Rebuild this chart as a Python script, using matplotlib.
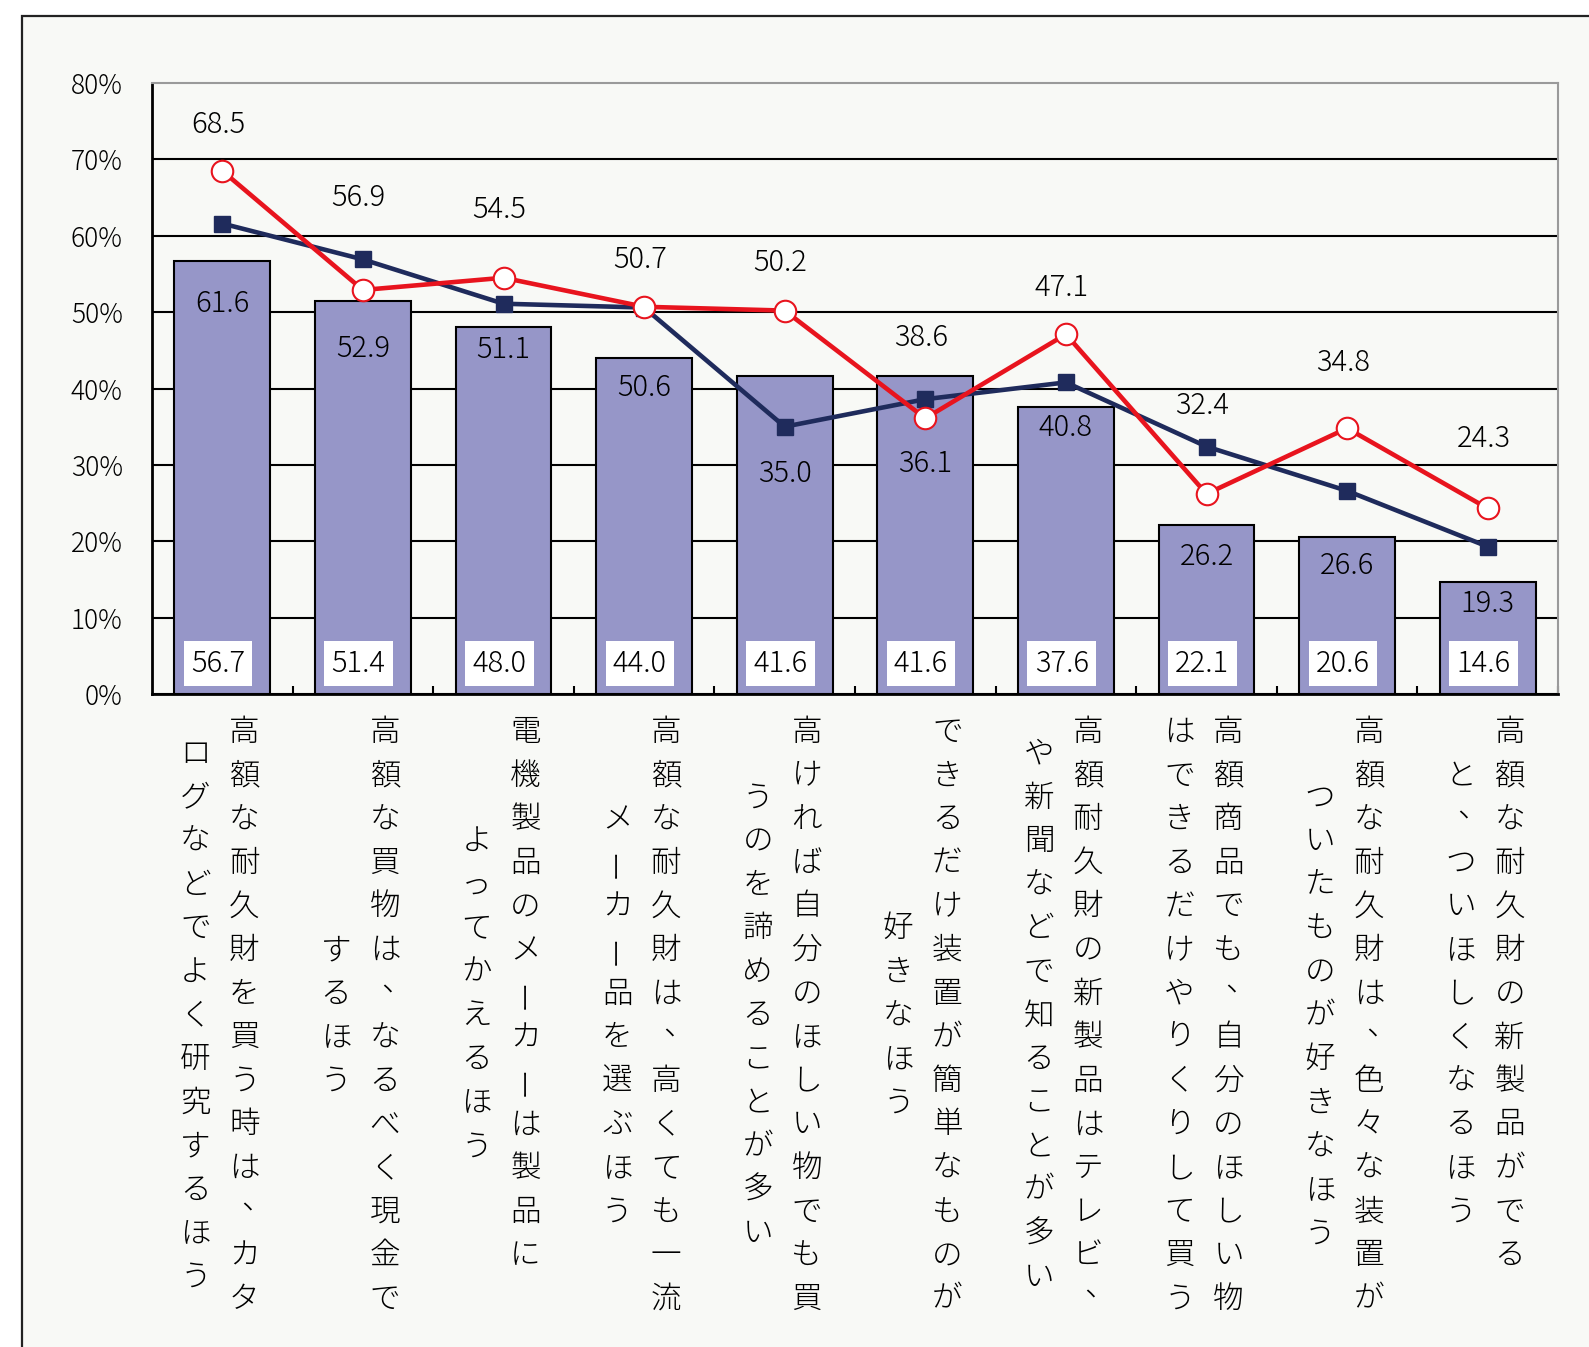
import matplotlib.pyplot as plt
from matplotlib.patches import Rectangle

plt.rcParams['font.family'] = ['Noto Sans CJK JP', 'DejaVu Sans']

# 項目（縦書き、\n で列を分ける：右の列 → 左の列）
labels = [
    "高額な耐久財を買う時は、カタ\nログなどでよく研究するほう",
    "高額な買物は、なるべく現金で\nするほう",
    "電機製品のメーカーは製品に\nよってかえるほう",
    "高額な耐久財は、高くても一流\nメーカー品を選ぶほう",
    "高ければ自分のほしい物でも買\nうのを諦めることが多い",
    "できるだけ装置が簡単なものが\n好きなほう",
    "高額耐久財の新製品はテレビ、\nや新聞などで知ることが多い",
    "高額商品でも、自分のほしい物\nはできるだけやりくりして買う",
    "高額な耐久財は、色々な装置が\nついたものが好きなほう",
    "高額な耐久財の新製品がでる\nと、ついほしくなるほう",
]

bar_vals = [56.7, 51.4, 48.0, 44.0, 41.6, 41.6, 37.6, 22.1, 20.6, 14.6]
navy_vals = [61.6, 56.9, 51.1, 50.6, 35.0, 38.6, 40.8, 32.4, 26.6, 19.3]
red_vals = [68.5, 52.9, 54.5, 50.7, 50.2, 36.1, 47.1, 26.2, 34.8, 24.3]

yticks = [0, 10, 20, 30, 40, 50, 60, 70, 80]

# ラベル位置の調整（%単位）
upper_dy = [6.0, 8.1, 8.9, 6.1, 6.2, 8.1, 6.1, 5.3, 8.6, 9.1]
lower_dy = [-10.5, -7.7, -6.0, -10.5, -6.1, -5.9, -5.9, -8.2, -9.8, -7.5]

bar_color = '#9696c8'
navy = '#1f2b5c'
red = '#e8141e'
bg = '#f8f9f6'

W, H = 1589, 1347
fig = plt.figure(figsize=(W / 100, H / 100), dpi=100)
fig.patch.set_facecolor('white')

# 外枠
fig.patches.append(Rectangle((22 / W, -0.1), 1.2, 1.1 - 16 / H, transform=fig.transFigure,
                             facecolor=bg, edgecolor='#222222', linewidth=1.6, zorder=-1))

ax = fig.add_axes([152 / W, 1 - 694 / H, (1558 - 152) / W, (694 - 83) / H])
ax.set_facecolor(bg)

x = list(range(len(bar_vals)))

ax.bar(x, bar_vals, width=0.68, color=bar_color, edgecolor='black', linewidth=1.5, zorder=2)
ax.plot(x, navy_vals, color=navy, linewidth=3.3, marker='s', markersize=12, zorder=3)
ax.plot(x, red_vals, color=red, linewidth=3.3, marker='o', markersize=15.5,
        markerfacecolor='white', markeredgecolor=red, markeredgewidth=1.5, zorder=4)

ax.set_xlim(-0.5, len(x) - 0.5)
ax.set_ylim(0, 80)
ax.set_yticks(yticks)
ax.set_yticklabels([f"{v}%" for v in yticks], fontweight='light')
ax.tick_params(axis='y', length=0, pad=21, labelsize=19)
ax.set_xticks([])
ax.set_xticks([i + 0.5 for i in x], minor=True)
ax.tick_params(axis='x', which='minor', direction='in', length=6, width=1.5)

ax.set_axisbelow(True)
ax.yaxis.grid(True, color='black', linewidth=1.5)
ax.yaxis.get_gridlines()[-1].set_visible(False)
for s in ['top', 'right']:
    ax.spines[s].set_color('#9a9a9a')
    ax.spines[s].set_linewidth(1.5)
for s in ['left', 'bottom']:
    ax.spines[s].set_color('black')
    ax.spines[s].set_linewidth(2)

# 数値ラベル
for i in x:
    hi = max(red_vals[i], navy_vals[i])
    lo = min(red_vals[i], navy_vals[i])
    ax.text(i - 0.03, hi + upper_dy[i], f"{hi:.1f}", ha='center', va='center',
            fontsize=21, fontweight='light', zorder=5)
    ax.text(i, lo + lower_dy[i], f"{lo:.1f}", ha='center', va='center',
            fontsize=21, fontweight='light', zorder=5)
    ax.text(i - 0.03, 4.0, f"{bar_vals[i]:.1f}", ha='center', va='center',
            fontsize=21, fontweight='light', zorder=5,
            bbox=dict(boxstyle='square,pad=0.25', facecolor='white', edgecolor='none'))

# 縦書きの項目名
col_dx = [22, -27]
pitch = 43.6
first_dy = 38
for i, lab in enumerate(labels):
    cols = lab.split("\n")
    longest = max(len(c) for c in cols)
    for k, col in enumerate(cols):
        start = (longest - len(col)) / 2
        for j, ch in enumerate(col):
            rot = 90 if ch == "ー" else 0
            dx, dy = col_dx[k], -(first_dy + (start + j) * pitch)
            if ch == "、":
                dx, dy = dx + 12, dy + 12
            ax.annotate(ch, xy=(i, 0), xycoords=('data', 'axes fraction'),
                        xytext=(dx, dy), textcoords='offset pixels',
                        ha='center', va='center', rotation=rot, fontsize=22,
                        fontweight='light', annotation_clip=False)

fig.savefig('out.png', dpi=100)
